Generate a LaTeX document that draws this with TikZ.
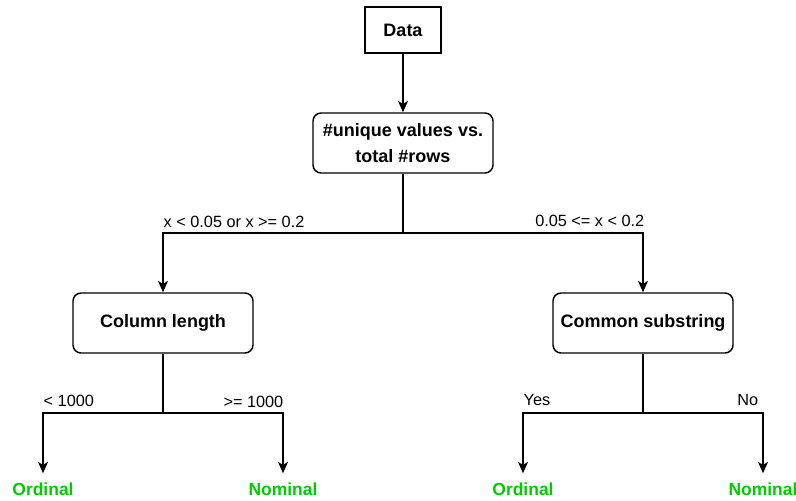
\documentclass[tikz,border=0pt]{standalone}
\usepackage{fontspec}
\setmainfont{Liberation Sans}
\usetikzlibrary{arrows.meta}
\definecolor{leafgreen}{HTML}{00CC00}
\begin{document}
\begin{tikzpicture}[x=0.75pt,y=-0.75pt,
  line width=1.1pt,
  arr/.style={-{Stealth[length=8.5pt,width=7.5pt,inset=2.2pt]}},
  squarebox/.style={draw,inner sep=0pt,minimum width=57pt,minimum height=34.5pt,
    font=\fontsize{13.5}{19.5}\selectfont\bfseries,align=center},
  roundbox/.style={draw,rounded corners=6pt,inner sep=0pt,minimum width=135pt,
    minimum height=45pt,font=\fontsize{13.5}{19.5}\selectfont\bfseries,align=center},
  edgelabel/.style={inner sep=0pt,font=\fontsize{12.2}{14}\selectfont},
  leaf/.style={inner sep=0pt,outer ysep=6.8pt,text=leafgreen,
    font=\fontsize{13.1}{15}\selectfont\bfseries}]
  \useasboundingbox (0,0) rectangle (796,500);

  % decision nodes
  \node[squarebox] (data) at (403,30) {Data};
  \node[roundbox] (ratio) at (403,143) {\#unique values vs.\\total \#rows};
  \node[roundbox] (col) at (163,323) {Column length};
  \node[roundbox] (sub) at (643,323) {Common substring};

  % outcomes
  \node[leaf,anchor=base] (ordL) at (43,495) {Ordinal};
  \node[leaf,anchor=base] (nomL) at (283,495) {Nominal};
  \node[leaf,anchor=base] (ordR) at (523,495) {Ordinal};
  \node[leaf,anchor=base] (nomR) at (763,495) {Nominal};

  % branching points
  \coordinate (j1) at (403,233);
  \coordinate (j2) at (163,413);
  \coordinate (j3) at (643,413);

  % connectors
  \draw[arr] (data) -- (ratio);
  \draw (ratio) -- (j1);
  \draw[arr] (j1) -| (col);
  \draw[arr] (j1) -| (sub);
  \draw (col) -- (j2);
  \draw[arr] (j2) -| (ordL);
  \draw[arr] (j2) -| (nomL);
  \draw (sub) -- (j3);
  \draw[arr] (j3) -| (ordR);
  \draw[arr] (j3) -| (nomR);

  % branch conditions
  \node[edgelabel,anchor=base west] (c1) at (163,227) {x < 0.05 or x >= 0.2};
  \node[edgelabel,anchor=base east] (c2) at (645,226) {0.05 <= x < 0.2};
  \node[edgelabel,anchor=base west] (c3) at (43,406) {< 1000};
  \node[edgelabel,anchor=base east] (c4) at (284,407) {>= 1000};
  \node[edgelabel,anchor=base west] (c5) at (523,405) {Yes};
  \node[edgelabel,anchor=base east] (c6) at (759,405) {No};
\end{tikzpicture}
\end{document}
